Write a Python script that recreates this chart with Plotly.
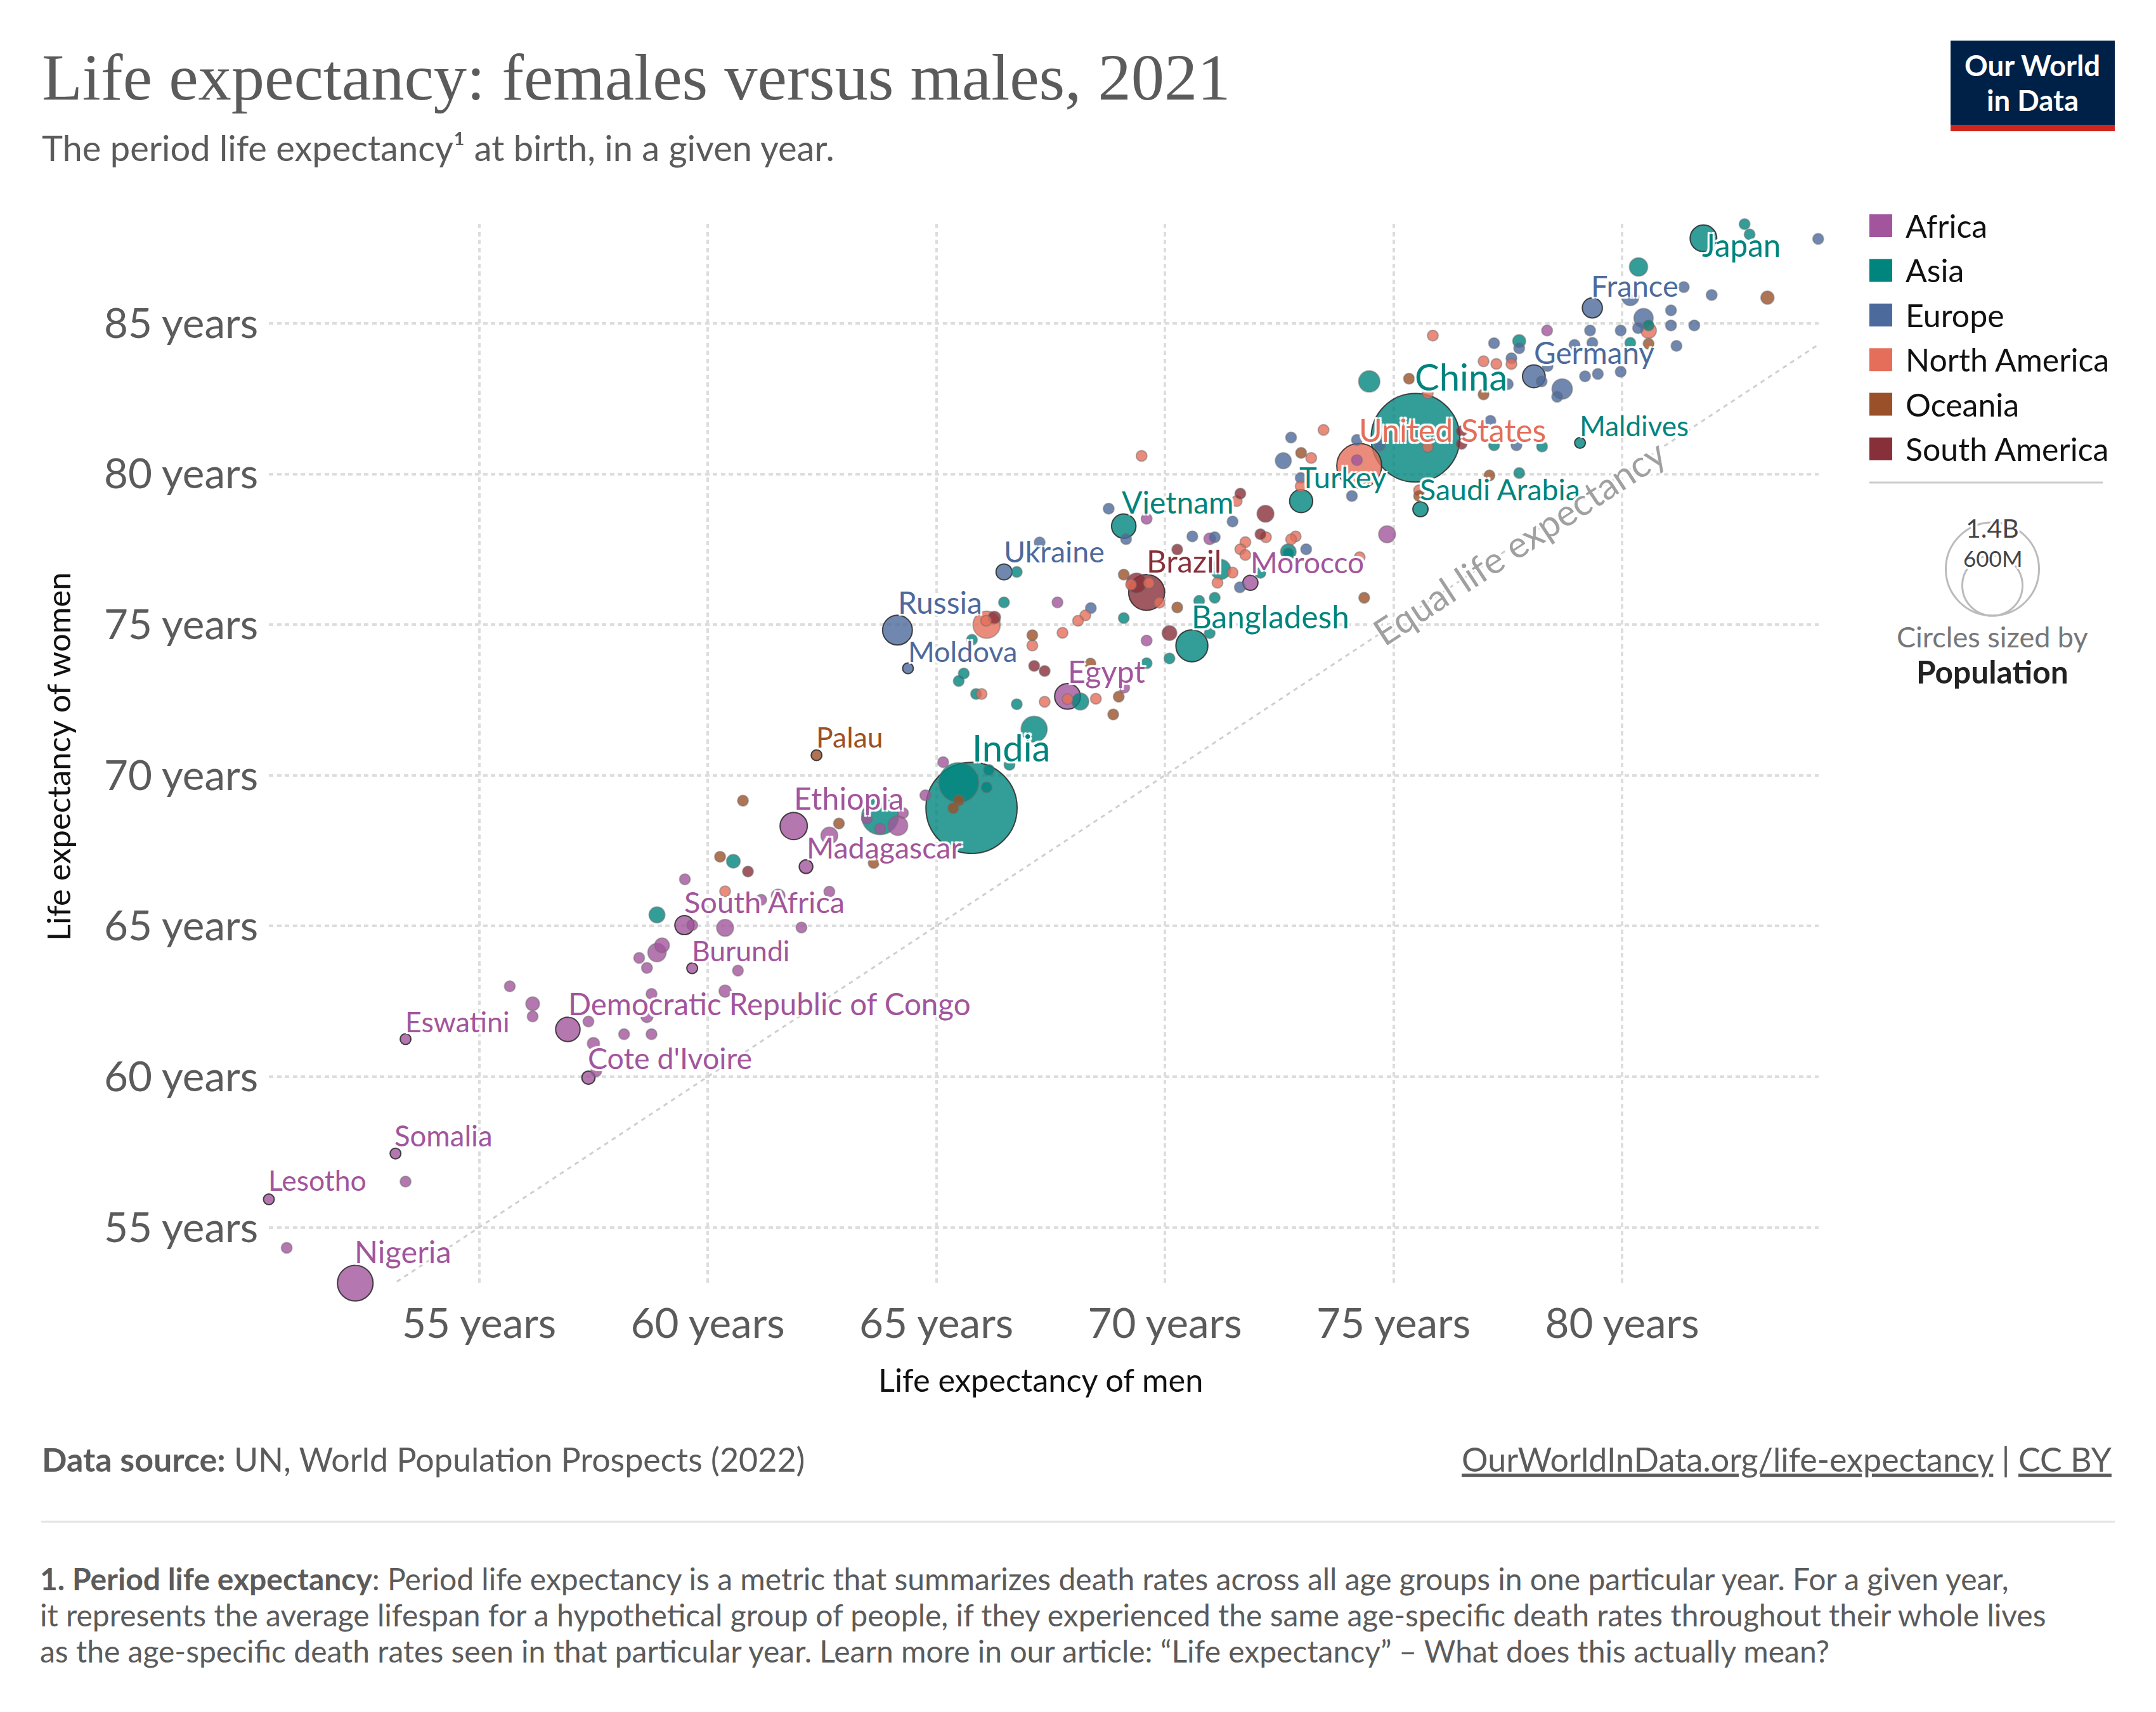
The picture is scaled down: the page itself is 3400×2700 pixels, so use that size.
import numpy as np
import plotly.graph_objects as go

W, H = 3400, 2700
FONT = "Lato"
GREY = "#5b5b5b"

continents = ["Africa", "Asia", "Europe", "North America", "Oceania", "South America"]
continent_colors = ["#A2559C", "#00847E", "#4C6A9C", "#E56E5A", "#9A5129", "#883039"]

# labelled countries come first in each list, n_labeled says how many
africa_men = [52.29, 61.88, 67.87, 56.94, 62.15, 71.87, 59.49, 59.66, 57.39, 53.39, 53.17, 50.4,
              78.36, 74.2, 74.86, 69.6, 70.98, 67.65, 69.6, 69.11, 65.15, 64.76, 62.66, 63.77, 63.48, 64.16, 64.27,
              62.66, 61.54, 61.17, 62.05, 60.66, 59.5, 59.66, 60.38, 59.0, 58.89, 58.5, 58.67, 60.38, 58.77, 58.67,
              57.39, 58.17, 58.77, 57.5, 57.56, 50.79, 53.39, 55.67, 56.17, 56.17]
africa_women = [53.15, 68.32, 72.62, 61.57, 66.97, 76.39, 65.03, 63.6, 59.97, 61.25, 57.45, 55.93,
                84.76, 80.46, 78.0, 78.51, 77.85, 75.74, 74.47, 72.91, 70.44, 69.34, 68.0, 68.23, 68.57, 68.33, 68.75,
                66.14, 66.0, 65.87, 64.95, 63.52, 66.55, 65.03, 64.94, 64.36, 64.12, 63.94, 63.61, 62.84, 62.75, 62.0,
                61.83, 61.41, 61.41, 61.1, 60.18, 54.32, 56.52, 63.0, 62.42, 62.0]
africa_pop = [205, 120, 107, 96, 30, 37, 59, 12, 28, 10, 10, 10,
              10, 10, 46, 10, 22, 10, 10, 10, 10, 10, 46, 10, 10, 62, 10,
              10, 30, 10, 10, 10, 10, 10, 46, 35, 54, 10, 10, 24, 10, 24,
              10, 10, 10, 24, 10, 10, 10, 10, 30, 10]

asia_men = [75.48, 65.77, 81.78, 69.1, 72.98, 70.59, 75.59, 79.08,
            82.68, 82.79, 80.36, 80.58, 80.18, 77.75, 78.25, 77.2, 77.75, 74.47, 72.7, 72.7, 72.09, 71.22, 71.09,
            70.75, 69.1, 70.98, 70.1, 69.6, 66.76, 66.48, 65.78, 65.6, 65.49, 65.87, 66.76, 68.15, 67.14, 65.49,
            66.15, 66.1, 66.6, 63.77, 60.56, 58.89]
asia_women = [81.2, 68.92, 87.82, 78.27, 79.1, 74.3, 78.83, 81.03,
              88.29, 87.95, 86.87, 84.93, 84.35, 84.41, 80.91, 80.95, 80.03, 83.07, 77.42, 77.37, 76.72, 76.83, 75.89,
              75.79, 75.22, 74.72, 73.88, 73.72, 76.75, 75.74, 74.5, 73.38, 73.13, 72.7, 72.36, 72.45, 71.53, 69.76,
              70.18, 69.6, 70.35, 68.64, 67.15, 65.37]
asia_pop = [1265, 1340, 115, 96, 86, 165, 37, 10,
            10, 10, 54, 10, 10, 27, 10, 10, 10, 73, 39, 10, 10, 65, 10,
            10, 10, 10, 10, 10, 10, 10, 10, 10, 10, 10, 10, 46, 110, 258,
            10, 10, 10, 220, 30, 41]

europe_men = [79.35, 78.07, 64.15, 66.48, 64.38,
              84.29, 81.35, 81.96, 80.18, 80.47, 81.07, 81.07, 81.58, 81.19, 80.35, 79.3, 79.97, 79.35, 78.96, 77.2,
              77.75, 77.58, 78.37, 78.24, 78.69, 78.58, 79.19, 79.47, 79.97, 77.69, 77.5, 77.12, 74.2, 74.7, 72.76,
              72.59, 72.97, 74.09, 71.48, 73.09, 71.64, 71.09, 70.6, 68.77, 69.15, 68.38, 67.26]
europe_women = [85.51, 83.24, 74.82, 76.75, 73.55,
                87.8, 86.2, 85.94, 85.87, 85.17, 85.43, 84.93, 84.93, 84.25, 84.84, 84.76, 84.76, 84.35, 84.28, 84.34,
                84.17, 83.84, 83.58, 83.07, 82.82, 82.56, 83.24, 83.32, 83.39, 80.95, 82.98, 81.76, 81.13, 80.94, 81.21,
                80.44, 79.87, 79.27, 78.42, 77.5, 76.24, 77.9, 77.93, 78.85, 77.84, 75.55, 77.73]
europe_pop = [65, 83, 143, 41, 10,
              10, 10, 10, 47, 60, 10, 10, 10, 10, 10, 10, 10, 10, 10, 10,
              10, 10, 10, 10, 67, 10, 10, 10, 10, 10, 10, 10, 10, 10, 10,
              41, 10, 10, 10, 10, 10, 10, 10, 10, 10, 10, 10]

namerica_men = [74.25,
                75.86, 80.58, 77.58, 77.25, 76.97, 75.75, 75.75, 73.47, 73.2, 72.97, 75.56, 71.57, 72.21, 71.76, 72.86,
                72.76, 71.65, 71.76, 74.26, 71.48, 71.15, 69.49, 69.26, 69.65, 69.88, 68.26, 68.1, 68.49, 66.1, 66.09,
                65.99, 67.1, 67.76, 67.87, 67.37, 60.38]
namerica_women = [80.27,
                  84.59, 84.76, 83.65, 83.65, 83.74, 82.68, 80.9, 81.46, 80.53, 79.59, 79.46, 79.1, 77.9, 77.74, 77.93,
                  77.83, 77.5, 77.31, 77.24, 76.73, 76.39, 80.6, 76.33, 76.38, 75.73, 75.31, 75.13, 72.54, 75.0, 75.13,
                  72.7, 74.31, 74.73, 72.53, 72.44, 66.15]
namerica_pop = [325,
                10, 39, 10, 10, 10, 10, 10, 10, 10, 10, 10, 10, 10, 10, 10,
                10, 10, 10, 10, 10, 10, 10, 10, 10, 10, 10, 10, 10, 120, 10,
                10, 10, 10, 10, 10, 10]

oceania_men = [62.38,
               83.18, 80.58, 77.1, 75.34, 76.97, 72.98, 75.56, 74.36, 70.27, 69.1, 68.37, 68.99, 68.87, 67.1, 65.49,
               65.37, 60.77, 62.87, 63.63, 60.27]
oceania_women = [70.67,
                 85.85, 84.32, 79.95, 83.16, 82.64, 80.7, 79.27, 75.89, 75.57, 76.66, 73.71, 72.61, 72.02, 74.65, 69.17,
                 68.91, 69.16, 68.4, 67.09, 67.3]
oceania_pop = [10,
               28, 10, 10, 10, 10, 10, 10, 10, 10, 10, 10, 10, 10, 10, 10,
               10, 10, 10, 10, 10]

samerica_men = [69.6,
                76.49, 76.49, 71.65, 72.2, 72.09, 70.27, 69.38, 70.1, 66.27, 67.14, 67.37, 60.88]
samerica_women = [76.07,
                  81.42, 81.0, 79.35, 78.68, 78.0, 77.49, 76.38, 74.72, 75.24, 73.63, 73.46, 66.81]
samerica_pop = [209,
                10, 10, 10, 46, 10, 10, 65, 35, 25, 10, 10, 10]

n_labeled = [12, 8, 5, 1, 1, 1]

label_names = ["China", "India", "United States", "Japan", "France", "Germany", "Maldives", "Saudi Arabia",
               "Turkey", "Vietnam", "Brazil", "Morocco", "Bangladesh", "Ukraine", "Russia", "Moldova", "Egypt",
               "Palau", "Ethiopia", "Madagascar", "South Africa", "Burundi", "Democratic Republic of Congo",
               "Cote d'Ivoire", "Eswatini", "Somalia", "Lesotho", "Nigeria"]
label_groups = [1, 1, 3, 1, 2, 2, 1, 1, 1, 1, 5, 0, 1, 2, 2, 2, 0, 4, 0, 0, 0, 0, 0, 0, 0, 0, 0, 0]
label_men = [75.51, 65.82, 74.29, 81.79, 79.36, 78.11, 79.11, 75.61, 72.98, 69.1, 69.64, 71.91, 70.63, 66.52, 64.2,
             64.42, 67.92, 62.41, 61.93, 62.2, 59.52, 59.69, 56.99, 57.42, 53.43, 53.19, 50.43, 52.32]
label_women = [83.24, 70.93, 81.46, 87.6, 86.25, 84.03, 81.62, 79.5, 79.9, 79.08, 77.12, 77.08, 75.28, 77.44, 75.74,
               74.11, 73.46, 71.3, 69.25, 67.62, 65.8, 64.19, 62.44, 60.64, 61.83, 58.05, 56.58, 54.22]
label_sizes = [58, 58, 50, 49.5, 47, 47.5, 44, 46.5, 47, 48, 49, 46, 49.5, 46.5, 48, 45, 48.5, 44.5, 48.5, 46.5, 47,
               44.5, 47.5, 46.5, 44.7, 45.5, 44.5, 48.7]

x_ticks = [55, 60, 65, 70, 75, 80]
y_ticks = [55, 60, 65, 70, 75, 80, 85]
x_range = [50.4, 84.3]
y_range = [53.08, 88.3]
equal_line = [53.2, 84.27]

size_legend_pops = ["1.4B", "600M"]
note_lines = [
    "<b>1. Period life expectancy</b>: Period life expectancy is a metric that summarizes death rates across all age groups in one particular year. For a given year,",
    "it represents the average lifespan for a hypothetical group of people, if they experienced the same age-specific death rates throughout their whole lives",
    "as the age-specific death rates seen in that particular year. Learn more in our article: “Life expectancy” – What does this actually mean?",
]


def fx(px):
    return px / W


def fy(py):
    return 1 - py / H


def rgba(hex_color, alpha):
    r, g, b = int(hex_color[1:3], 16), int(hex_color[3:5], 16), int(hex_color[5:7], 16)
    return f"rgba({r},{g},{b},{alpha})"


def text_at(px, py, text, size, color=GREY, anchor="left", family=FONT, shadow=None):
    font = dict(family=family, size=size, color=color)
    if shadow:
        font["shadow"] = shadow
    return dict(x=fx(px), y=fy(py), xref="paper", yref="paper", text=text, showarrow=False, xanchor=anchor,
                yanchor="middle", font=font, borderpad=0)


HALO = "-3px -3px 1px #fff, 3px -3px 1px #fff, -3px 3px 1px #fff, 3px 3px 1px #fff, 0 0 4px #fff"

all_men = [africa_men, asia_men, europe_men, namerica_men, oceania_men, samerica_men]
all_women = [africa_women, asia_women, europe_women, namerica_women, oceania_women, samerica_women]
all_pop = [africa_pop, asia_pop, europe_pop, namerica_pop, oceania_pop, samerica_pop]

men = np.concatenate(all_men)
women = np.concatenate(all_women)
pop = np.concatenate(all_pop)
fills, strokes = [], []
for i, m in enumerate(all_men):
    fills += [rgba(continent_colors[i], 0.8)] * len(m)
    strokes += ["rgba(40,40,40,0.85)"] * n_labeled[i] + ["rgba(110,110,110,0.5)"] * (len(m) - n_labeled[i])

# biggest circles go at the back
order = np.argsort(-pop, kind="stable")

fig = go.Figure()
fig.add_trace(go.Scatter(
    x=equal_line, y=equal_line, mode="lines", hoverinfo="skip",
    line=dict(color="#cfcfcf", width=3, dash="7px,7px"),
))
fig.add_trace(go.Scatter(
    x=men[order], y=women[order], mode="markers", cliponaxis=False,
    marker=dict(
        size=pop[order], sizemode="area", sizeref=0.1296, sizemin=8.5, opacity=1,
        color=[fills[i] for i in order],
        line=dict(color=[strokes[i] for i in order], width=2),
    ),
))

annotations = []
for name, g, x, y, s in zip(label_names, label_groups, label_men, label_women, label_sizes):
    annotations.append(dict(x=x, y=y, xref="x", yref="y", text=name, showarrow=False, xanchor="left", yanchor="middle",
                            xshift=-4, borderpad=0,
                            font=dict(family=FONT, size=s, color=continent_colors[g], shadow=HALO)))

annotations.append(dict(x=77.75, y=77.75, xref="x", yref="y", text="Equal life expectancy", showarrow=False,
                        textangle=-33.3, font=dict(family=FONT, size=58, color="#a0a0a0", shadow=HALO)))

# title block
annotations.append(text_at(65, 122, "Life expectancy: females versus males, 2021", 104.5, family="Liberation Serif"))
annotations.append(text_at(65, 232, "The period life expectancy¹ at birth, in a given year.", 56))

# axis titles
annotations.append(text_at(1641, 2175, "Life expectancy of men", 50.5, color="#111", anchor="center"))
annotations.append(dict(x=fx(91), y=fy(1193), xref="paper", yref="paper", text="Life expectancy of women",
                        showarrow=False, textangle=-90, xanchor="center", yanchor="middle",
                        font=dict(family=FONT, size=50.7, color="#111")))

# logo
annotations.append(text_at(3205, 102, "<b>Our World</b>", 45.5, color="#fff", anchor="center"))
annotations.append(text_at(3205, 157, "<b>in Data</b>", 45.5, color="#fff", anchor="center"))

shapes = [
    dict(type="rect", xref="paper", yref="paper", x0=fx(3076), x1=fx(3335), y0=fy(64), y1=fy(197),
         fillcolor="#002147", line_width=0),
    dict(type="rect", xref="paper", yref="paper", x0=fx(3076), x1=fx(3335), y0=fy(197), y1=fy(207),
         fillcolor="#ce261e", line_width=0),
]

# colour legend
for i, c in enumerate(continents):
    yc = 356 + i * 70.4
    shapes.append(dict(type="rect", xref="paper", yref="paper", x0=fx(2948), x1=fx(2984), y0=fy(yc - 18), y1=fy(yc + 18),
                       fillcolor=continent_colors[i], line_width=0))
    annotations.append(text_at(3004, yc, c, 50, color="#111"))
shapes.append(dict(type="line", xref="paper", yref="paper", x0=fx(2948), x1=fx(3316), y0=fy(761), y1=fy(761),
                   line=dict(color="#cccccc", width=3)))

# size legend
for r, yc in [(73.5, 897.5), (47.5, 923.5)]:
    shapes.append(dict(type="circle", xref="paper", yref="paper", x0=fx(3142 - r), x1=fx(3142 + r),
                       y0=fy(yc - r), y1=fy(yc + r), line=dict(color="#bbbbbb", width=3)))
annotations.append(text_at(3142, 832, size_legend_pops[0], 41, color="#444", anchor="center", shadow=HALO))
annotations.append(text_at(3142, 880, size_legend_pops[1], 35, color="#444", anchor="center", shadow=HALO))
annotations.append(text_at(3142, 1004, "Circles sized by", 45, color="#777", anchor="center"))
annotations.append(text_at(3142, 1059, "<b>Population</b>", 49.6, color="#222", anchor="center"))

# footer
annotations.append(text_at(65, 2301, "<b>Data source:</b> UN, World Population Prospects (2022)", 52))
annotations.append(text_at(3331, 2301, "<u>OurWorldInData.org/life-expectancy</u> | <u>CC BY</u>", 52, anchor="right"))
shapes.append(dict(type="line", xref="paper", yref="paper", x0=fx(65), x1=fx(3335), y0=fy(2400), y1=fy(2400),
                   line=dict(color="#e3e3e3", width=3)))
for line, yc in zip(note_lines, [2489, 2546, 2603]):
    annotations.append(text_at(62, yc, line, 48))

grid = dict(showgrid=True, gridcolor="#dddddd", gridwidth=3.5, griddash="7px,5.5px", zeroline=False, showline=False,
            ticks="", tickmode="array", tickfont=dict(family=FONT, size=65.5, color=GREY))

fig.update_layout(
    width=W, height=H, margin=dict(l=0, r=0, t=0, b=0), paper_bgcolor="white", plot_bgcolor="white",
    showlegend=False, annotations=annotations, shapes=shapes,
    xaxis=dict(grid, domain=[424 / W, 2868 / W], range=x_range, tickvals=x_ticks,
               ticktext=[f"{v} years" for v in x_ticks], ticklabelstandoff=16),
    yaxis=dict(grid, domain=[1 - 2027 / H, 1 - 353 / H], range=y_range, tickvals=y_ticks,
               ticktext=[f"{v} years" for v in y_ticks], ticklabelstandoff=16),
)

fig.write_html("out.html", config={"displayModeBar": False}, post_script="document.body.style.margin='0';")
